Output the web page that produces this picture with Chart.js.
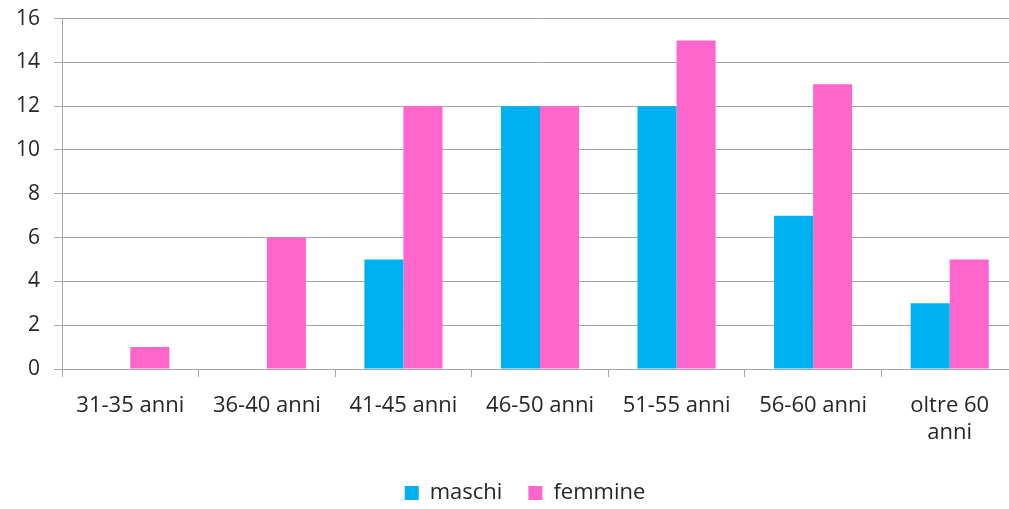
<!DOCTYPE html>
<html lang="it">
<head>
    <meta charset="UTF-8">
    <title>Età per sesso</title>
    <script src="https://cdn.jsdelivr.net/npm/chart.js"></script>
    <style>
        html, body { margin: 0; padding: 0; overflow: hidden; background: #fff; }
        #wrap { width: 1018px; height: 522px; margin-top: -8px; }
    </style>
</head>
<body>
    <div id="wrap"><canvas id="ageChart"></canvas></div>
    <script>
        // fasce d'età
        const categories = ['31-35 anni', '36-40 anni', '41-45 anni', '46-50 anni', '51-55 anni', '56-60 anni', ['oltre 60', 'anni']];
        const maschi = [0, 0, 5, 12, 12, 7, 3];
        const femmine = [1, 6, 12, 12, 15, 13, 5];
        const yTicks = { min: 0, max: 16, step: 2 };

        const gridColor = '#a6a6a6';
        const textColor = '#262626';
        Chart.defaults.font.family = '"Open Sans", Lato, sans-serif';
        Chart.defaults.font.size = 20;
        Chart.defaults.color = textColor;

        // nudge the legend a bit to the right, like the original
        const legendShift = {
            id: 'legendShift',
            afterLayout(chart) { chart.legend.left += 32; }
        };

        new Chart(document.getElementById('ageChart'), {
            type: 'bar',
            data: {
                labels: categories,
                datasets: [
                    { label: 'maschi', data: maschi, backgroundColor: '#00b0f0' },
                    { label: 'femmine', data: femmine, backgroundColor: '#ff66cc' }
                ]
            },
            options: {
                responsive: true,
                maintainAspectRatio: false,
                animation: false,
                categoryPercentage: 0.572,
                barPercentage: 1,
                layout: { padding: { top: 10, left: 0, right: 0, bottom: 0 } },
                plugins: {
                    tooltip: { enabled: false },
                    legend: {
                        position: 'bottom',
                        labels: { boxWidth: 14, boxHeight: 14, padding: 26, font: { size: 22 } }
                    }
                },
                scales: {
                    x: {
                        grid: { drawOnChartArea: false, color: gridColor, tickLength: 8 },
                        border: { color: gridColor },
                        ticks: { maxRotation: 0, padding: 16, font: { size: 22 } },
                        afterFit: s => { s.height = 87; }
                    },
                    y: {
                        min: yTicks.min,
                        max: yTicks.max,
                        grid: { color: gridColor, tickLength: 8 },
                        border: { color: gridColor },
                        ticks: { stepSize: yTicks.step, padding: 14, font: { size: 21 } },
                        afterFit: s => { s.width = 62; }
                    }
                }
            },
            plugins: [legendShift]
        });
    </script>
</body>
</html>
